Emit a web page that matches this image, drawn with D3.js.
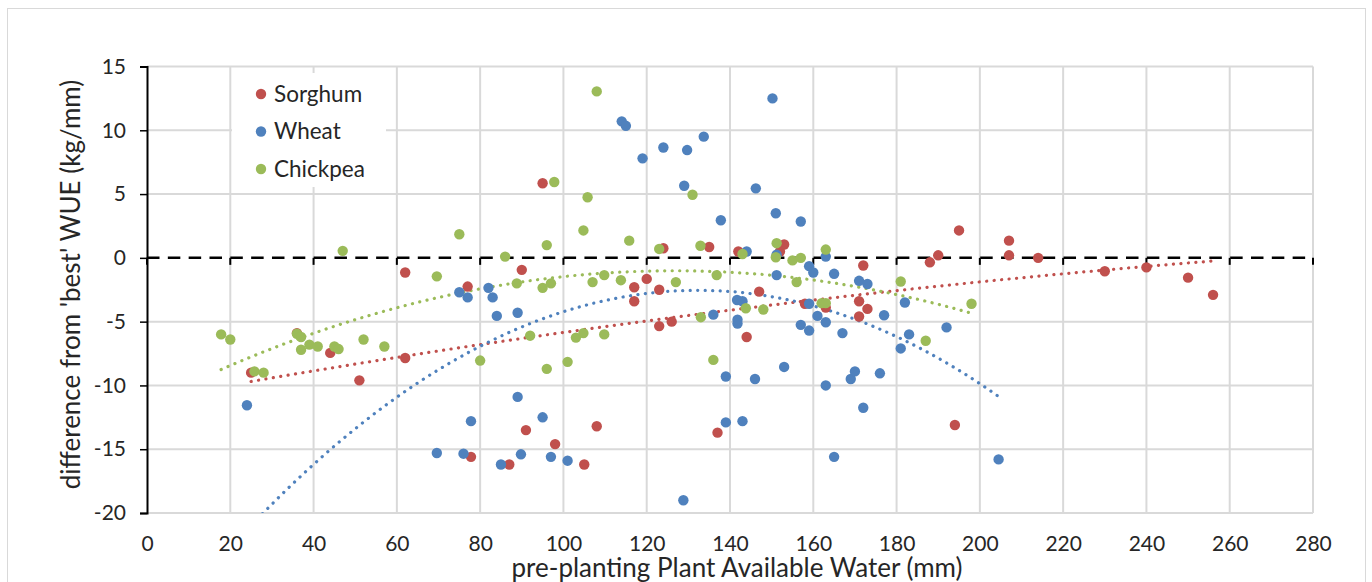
<!DOCTYPE html>
<html>
<head>
<meta charset="utf-8">
<script src="https://cdn.jsdelivr.net/npm/d3@7"></script>
<style>
  html, body { margin: 0; padding: 0; background: #fff; }
  svg { display: block; font-family: "Lato", "Carlito", "Calibri", sans-serif; }
</style>
</head>
<body>
<svg id="chart" width="1372" height="582"></svg>
<script>
// Pre-planting plant available water (mm) vs difference from 'best' WUE (kg/mm)
const sorghumX = [25, 36, 44, 51, 62, 62, 77, 77.8, 87, 90, 91, 95, 98, 105, 108, 117, 117, 120, 123, 123,
  124, 126, 135, 137, 142, 144, 147, 152, 153, 158, 163, 171, 171, 172, 173, 188, 190, 194, 195, 207,
  207, 214, 230, 240, 250, 256];
const sorghumY = [-9.0, -5.9, -7.45, -9.6, -1.15, -7.85, -2.25, -15.6, -16.2, -0.94, -13.5, 5.85, -14.6, -16.2, -13.2, -2.3, -3.4, -1.65, -2.5, -5.35,
  0.75, -5.0, 0.85, -13.7, 0.5, -6.2, -2.65, 0.5, 1.05, -3.6, -3.9, -3.4, -4.6, -0.6, -4.0, -0.35, 0.2, -13.1, 2.15, 1.35,
  0.2, 0.0, -1.05, -0.75, -1.55, -2.9];

const wheatX = [24, 69.6, 75, 76, 77, 77.8, 82, 83, 84, 85, 89, 89, 89.8, 95, 97, 101, 114, 115, 119, 124,
  128.8, 129, 129.7, 133.7, 136, 137.8, 139, 139, 141.7, 141.8, 141.8, 143, 143, 144, 146, 146.2, 150.2, 151, 151.2, 151.2,
  153, 157, 157, 159, 159, 159, 160, 161, 163, 163, 163, 165, 165, 167, 169, 170, 171, 172, 173, 176,
  177, 181, 182, 183, 192, 204.5];
const wheatY = [-11.55, -15.3, -2.7, -15.35, -3.1, -12.8, -2.35, -3.1, -4.55, -16.2, -10.9, -4.3, -15.4, -12.5, -15.6, -15.9, 10.7, 10.35, 7.8, 8.65,
  -19.0, 5.65, 8.45, 9.5, -4.45, 2.95, -9.3, -12.9, -3.3, -4.85, -5.15, -3.4, -12.8, 0.5, -9.5, 5.45, 12.5, 3.5, 0.25, -1.35,
  -8.55, 2.85, -5.25, -0.65, -3.6, -5.7, -1.15, -4.55, 0.1, -5.05, -10.0, -1.25, -15.6, -5.9, -9.5, -8.9, -1.8, -11.75, -2.05, -9.05,
  -4.5, -7.1, -3.5, -6.0, -5.45, -15.8];

const chickpeaX = [17.8, 20, 25.8, 28, 36, 37, 37, 39, 41, 45, 46, 47, 52, 57, 69.6, 75, 80, 86, 88.8, 92,
  95, 96, 96, 97, 97.8, 101, 103, 104.8, 104.8, 105.8, 107, 108, 109.8, 109.8, 113.8, 115.8, 123, 127, 131, 132.9,
  133, 136, 136.8, 143, 143.8, 148, 151.2, 151, 155, 156, 157, 162, 163, 163, 181, 187, 198];
const chickpeaY = [-6.0, -6.4, -8.9, -9.0, -5.95, -6.2, -7.2, -6.8, -6.95, -6.95, -7.15, 0.55, -6.4, -6.95, -1.45, 1.85, -8.05, 0.1, -2.0, -6.1,
  -2.35, 1.0, -8.7, -2.0, 5.95, -8.15, -6.25, 2.15, -5.9, 4.75, -1.9, 13.05, -1.35, -6.0, -1.75, 1.35, 0.7, -1.9, 4.95, 0.95,
  -4.65, -8.0, -1.35, 0.3, -3.95, -4.05, 1.15, 0.05, -0.2, -1.9, 0.0, -3.55, -3.55, 0.65, -1.85, -6.5, -3.6];

const seriesNames = ["Sorghum", "Wheat", "Chickpea"];
const seriesColors = ["#C0504D", "#4F81BD", "#9BBB59"];

const xTicks = [0, 20, 40, 60, 80, 100, 120, 140, 160, 180, 200, 220, 240, 260, 280];
const yTicks = [15, 10, 5, 0, -5, -10, -15, -20];

const xTitle = "pre-planting Plant Available Water (mm)";
const yTitle = "difference from 'best' WUE (kg/mm)";

const series = [
  { name: seriesNames[0], color: seriesColors[0], xs: sorghumX, ys: sorghumY },
  { name: seriesNames[1], color: seriesColors[1], xs: wheatX, ys: wheatY },
  { name: seriesNames[2], color: seriesColors[2], xs: chickpeaX, ys: chickpeaY }
];

// Least-squares quadratic (order 2 polynomial trendline)
function polyFit2(xs, ys) {
  const n = xs.length;
  let s = [0, 0, 0, 0, 0], t = [0, 0, 0];
  for (let i = 0; i < n; i++) {
    let p = 1;
    for (let k = 0; k < 5; k++) { s[k] += p; if (k < 3) t[k] += p * ys[i]; p *= xs[i]; }
  }
  const A = [[s[0], s[1], s[2], t[0]], [s[1], s[2], s[3], t[1]], [s[2], s[3], s[4], t[2]]];
  for (let c = 0; c < 3; c++) {
    let piv = c;
    for (let r = c + 1; r < 3; r++) if (Math.abs(A[r][c]) > Math.abs(A[piv][c])) piv = r;
    [A[c], A[piv]] = [A[piv], A[c]];
    for (let r = 0; r < 3; r++) {
      if (r === c) continue;
      const f = A[r][c] / A[c][c];
      for (let k = c; k < 4; k++) A[r][k] -= f * A[c][k];
    }
  }
  return [A[0][3] / A[0][0], A[1][3] / A[1][1], A[2][3] / A[2][2]];
}

const svg = d3.select("#chart");
const plot = { left: 147, right: 1313, top: 66.5, bottom: 513 };

const x = d3.scaleLinear().domain([0, 280]).range([plot.left, plot.right]);
const y = d3.scaleLinear().domain([-20, 15]).range([plot.bottom, plot.top]);
const plainNumber = d => String(d);

// chart frame
svg.append("rect").attr("x", 7.5).attr("y", 8.5).attr("width", 1358).attr("height", 600)
  .attr("fill", "#fff").attr("stroke", "#d9d9d9").attr("stroke-width", 1);

// gridlines
const grid = svg.append("g").attr("stroke", "#d9d9d9").attr("stroke-width", 2);
grid.selectAll("line.v").data(xTicks.filter(d => d > 0)).join("line")
  .attr("x1", d => x(d)).attr("x2", d => x(d)).attr("y1", plot.top).attr("y2", plot.bottom);
grid.selectAll("line.h").data(yTicks.filter(d => d !== 0)).join("line")
  .attr("x1", plot.left).attr("x2", plot.right).attr("y1", d => y(d)).attr("y2", d => y(d));

// legend box (sits over gridlines)
const legend = svg.append("g");
legend.append("rect").attr("x", 232).attr("y", 73).attr("width", 154).attr("height", 114).attr("fill", "#fff");

// zero line acting as horizontal axis
svg.append("line").attr("x1", plot.left).attr("x2", plot.right).attr("y1", y(0)).attr("y2", y(0))
  .attr("stroke", "#000").attr("stroke-width", 2.5).attr("stroke-dasharray", "12.5 8.33");
svg.append("g").selectAll("line").data(xTicks).join("line")
  .attr("x1", d => x(d)).attr("x2", d => x(d)).attr("y1", y(0)).attr("y2", y(0) + 7)
  .attr("stroke", "#000").attr("stroke-width", 2);

// vertical axis
const yAxis = d3.axisLeft(y).tickValues(yTicks).tickSize(7).tickPadding(14).tickFormat(plainNumber);
const ya = svg.append("g").attr("transform", `translate(${plot.left},0)`).call(yAxis);
ya.select(".domain").attr("stroke", "#000").attr("stroke-width", 2);
ya.selectAll(".tick line").attr("stroke", "#000").attr("stroke-width", 1.5);
ya.selectAll(".tick text").attr("font-size", 21).attr("fill", "#262626")
  .attr("font-family", "Lato, Carlito, Calibri, sans-serif");

// horizontal tick labels along the bottom edge
const xAxis = d3.axisBottom(x).tickValues(xTicks).tickSize(0).tickPadding(0).tickFormat(plainNumber);
const xa = svg.append("g").attr("transform", `translate(0,${plot.bottom})`).call(xAxis);
xa.select(".domain").remove();
xa.selectAll(".tick text").attr("font-size", 21).attr("fill", "#262626")
  .attr("font-family", "Lato, Carlito, Calibri, sans-serif")
  .attr("dy", null).attr("y", 38);

// trendlines
const clip = svg.append("clipPath").attr("id", "plotclip");
clip.append("rect").attr("x", plot.left).attr("y", plot.top).attr("width", plot.right - plot.left).attr("height", plot.bottom - plot.top);
const trendG = svg.append("g").attr("clip-path", "url(#plotclip)");
series.forEach(s => {
  const c = polyFit2(s.xs, s.ys);
  const [x0, x1] = d3.extent(s.xs);
  const pts = d3.range(0, 201).map(i => {
    const xv = x0 + (x1 - x0) * i / 200;
    return [xv, c[0] + c[1] * xv + c[2] * xv * xv];
  });
  trendG.append("path").datum(pts)
    .attr("d", d3.line().x(d => x(d[0])).y(d => y(d[1])))
    .attr("fill", "none").attr("stroke", s.color).attr("stroke-width", 3.2)
    .attr("stroke-linecap", "round").attr("stroke-dasharray", "0.1 7.4");
});

// markers
series.forEach(s => {
  svg.append("g").selectAll("circle").data(s.xs.map((v, i) => [v, s.ys[i]])).join("circle")
    .attr("cx", d => x(d[0])).attr("cy", d => y(d[1])).attr("r", 5.2)
    .attr("fill", s.color);
});

// legend entries
series.forEach((s, i) => {
  const cy = 94 + i * 37.5;
  legend.append("circle").attr("cx", 261).attr("cy", cy).attr("r", 5.2).attr("fill", s.color);
  legend.append("text").attr("x", 274).attr("y", cy).attr("dy", "0.35em")
    .attr("font-size", 22.5).attr("fill", "#262626").text(s.name);
});

// axis titles
svg.append("text").attr("x", 737).attr("y", 577).attr("text-anchor", "middle")
  .attr("font-size", 26).attr("fill", "#262626").text(xTitle);
svg.append("text").attr("transform", `translate(80,${284.5}) rotate(-90)`).attr("text-anchor", "middle")
  .attr("font-size", 26).attr("fill", "#262626").text(yTitle);
</script>
</body>
</html>
